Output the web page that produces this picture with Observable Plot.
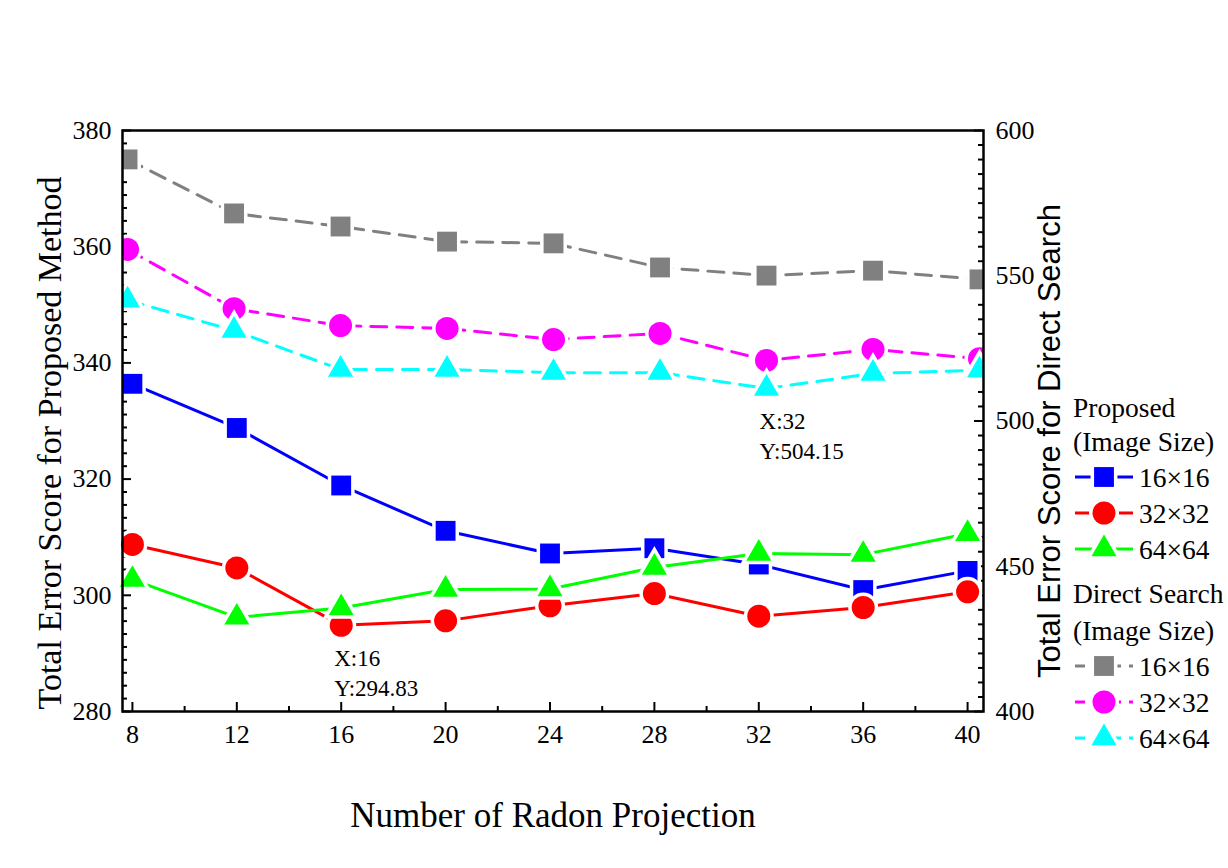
<!DOCTYPE html>
<html><head><meta charset="utf-8">
<script src="https://cdn.jsdelivr.net/npm/d3@7"></script>
<script src="https://cdn.jsdelivr.net/npm/@observablehq/plot@0.6"></script>
<style>
html,body{margin:0;padding:0;background:#fff;overflow:hidden;}
#wrap{position:relative;width:1228px;height:868px;overflow:hidden;}
#legend{position:absolute;left:0;top:0;pointer-events:none;}
</style></head>
<body><div id="wrap"></div>
<script>
// ---------- data ----------
const projections = [8, 12, 16, 20, 24, 28, 32, 36, 40];
const sizeLabels = ["16×16", "32×32", "64×64"];
// Proposed method (left axis)
const proposed16 = [336.4, 328.8, 318.9, 311.1, 307.2, 308.1, 305.3, 300.9, 304.2];
const proposed32 = [308.75, 304.7, 294.83, 295.6, 298.2, 300.3, 296.4, 297.9, 300.6];
const proposed64 = [302.7, 296.2, 297.8, 301.0, 301.1, 304.8, 307.2, 307.0, 310.6];
// Direct search (right axis, second layer)
const direct16 = [583.0, 564.4, 559.9, 554.7, 554.1, 545.8, 543.0, 544.7, 541.7];
const direct32 = [552.0, 531.6, 525.8, 524.8, 521.0, 523.1, 513.8, 517.6, 514.4];
const direct64 = [534.5, 524.1, 510.7, 510.7, 509.6, 509.6, 504.15, 509.3, 510.4];
// axis ticks
const xTicks = [8, 12, 16, 20, 24, 28, 32, 36, 40];
const leftTicks = [280, 300, 320, 340, 360, 380];
const rightTicks = [400, 450, 500, 550, 600];
// annotations
const notes = [
  {layer: "proposed", x: 16, y: 294.83, text: "X:16\nY:294.83"},
  {layer: "direct", x: 32, y: 504.15, text: "X:32\nY:504.15"}
];

// ---------- layout / scales ----------
const W = 1228, H = 868;
const mL = 122, mR = 245, mT = 130, mB = 157;
const plotW = W - mL - mR, plotH = H - mT - mB;
const xDomain = [7.62, 40.61];           // layer 1 x range
const xDomainDirect = [7.81, 40.15];     // layer 2 (direct search) x range
const leftDomain = [280, 380], rightDomain = [400, 600];
const rightDomainDirect = [392.95, 592.95]; // layer 2 y range
const lin = (v, a, b) => b[0] + (v - a[0]) / (a[1] - a[0]) * (b[1] - b[0]);
const toPrimaryX = v => lin(v, xDomainDirect, xDomain);
const toLeftY = v => lin(v, rightDomain, leftDomain);
const toLeftYDirect = v => lin(v, rightDomainDirect, leftDomain);
const toRightY = v => lin(v, leftDomain, rightDomain);

const proposedSeries = [proposed16, proposed32, proposed64];
const directSeries = [direct16, direct32, direct64];
const propStyle = [
  {color: "#0000FF", symbol: "square", r: 11.2},
  {color: "#FF0000", symbol: "circle", r: 11.5},
  {color: "#00FF00", symbol: "triangle", r: 9.3}
];
const dirStyle = [
  {color: "#808080", symbol: "square", r: 11.2},
  {color: "#FF00FF", symbol: "circle", r: 11.5},
  {color: "#00FFFF", symbol: "triangle", r: 9.3}
];

const propRows = proposedSeries.map(vals => projections.map((p, j) => ({x: p, y: vals[j]})));
const dirRows = directSeries.map(vals => projections.map((p, j) => ({x: toPrimaryX(p), y: toLeftYDirect(vals[j])})));

const marks = [];
// inward tick marks
const xMinor = d3.range(10, 40, 4);
const leftMinor = d3.range(0, 45).map(i => 280 + i * 20 / 9).filter(v => v < 380 - 1e-6 && !leftTicks.some(t => Math.abs(t - v) < 1e-6));
const rightMinor = d3.range(405, 600, 5).filter(v => v % 50 !== 0).map(toLeftY);
const tk = {strokeWidth: 2, stroke: "black"};
marks.push(Plot.tickX(xTicks, {x: d => d, insetTop: plotH - 9, ...tk}));
marks.push(Plot.tickX(xMinor, {x: d => d, insetTop: plotH - 5, ...tk}));
marks.push(Plot.tickY(leftTicks, {y: d => d, insetRight: plotW - 9, ...tk}));
marks.push(Plot.tickY(leftMinor, {y: d => d, insetRight: plotW - 5, ...tk}));
marks.push(Plot.tickY(rightTicks.map(toLeftY), {y: d => d, insetLeft: plotW - 9, ...tk}));
marks.push(Plot.tickY(rightMinor, {y: d => d, insetLeft: plotW - 5, ...tk}));

// proposed layer
propRows.forEach((rows, i) => {
  marks.push(Plot.line(rows, {x: "x", y: "y", stroke: propStyle[i].color, strokeWidth: 3}));
});
propRows.forEach((rows, i) => {
  const s = propStyle[i];
  marks.push(Plot.dot(rows, {x: "x", y: "y", symbol: s.symbol, r: s.r, fill: s.color, stroke: "white", strokeWidth: 7, paintOrder: "stroke"}));
});
// direct search layer
dirRows.forEach((rows, i) => {
  marks.push(Plot.line(rows, {x: "x", y: "y", stroke: dirStyle[i].color, strokeWidth: 3, strokeDasharray: "16,10", clip: true}));
});
dirRows.forEach((rows, i) => {
  const s = dirStyle[i];
  marks.push(Plot.dot(rows, {x: "x", y: "y", symbol: s.symbol, r: s.r, fill: s.color, stroke: "white", strokeWidth: 7, paintOrder: "stroke", clip: true}));
});

// annotations
marks.push(Plot.text(notes, {
  x: d => d.layer === "direct" ? toPrimaryX(d.x) : d.x,
  y: d => d.layer === "direct" ? toLeftYDirect(d.y) : d.y,
  text: "text", textAnchor: "start", lineAnchor: "top", dx: -7, dy: 20,
  fontSize: 23, lineHeight: 1.28, fill: "black", fontFamily: "Liberation Serif"
}));

// frame
marks.push(Plot.frame({stroke: "black", strokeWidth: 2.5}));

// tick labels
const tl = {tickSize: 0, fontSize: 26, label: null, fontFamily: "Liberation Serif"};
marks.push(Plot.axisX(xTicks, {...tl, tickPadding: 13}));
marks.push(Plot.axisY(leftTicks, {...tl, anchor: "left", tickPadding: 11}));
marks.push(Plot.axisY(rightTicks.map(toLeftY), {...tl, anchor: "right", tickPadding: 12, tickFormat: d => String(Math.round(toRightY(d)))}));

// axis titles
marks.push(Plot.text(["Total Error Score for Proposed Method"], {frameAnchor: "left", text: d => d, rotate: -90, dx: -72, dy: 22, fontSize: 34, fontFamily: "Liberation Serif", textAnchor: "middle", lineAnchor: "middle"}));
marks.push(Plot.text(["Total Error Score for Direct Search"], {frameAnchor: "right", text: d => d, rotate: -90, dx: 67, dy: 20, fontSize: 31, fontFamily: "Liberation Sans", textAnchor: "middle", lineAnchor: "middle"}));
marks.push(Plot.text(["Number of Radon Projection"], {frameAnchor: "bottom", text: d => d, dy: 104, fontSize: 35, fontFamily: "Liberation Serif", textAnchor: "middle", lineAnchor: "middle"}));

const chart = Plot.plot({
  width: W, height: H,
  marginLeft: mL, marginRight: mR, marginTop: mT, marginBottom: mB,
  x: {domain: xDomain},
  y: {domain: leftDomain},
  style: {fontFamily: "Liberation Serif", fontSize: "26px", background: "white", color: "black"},
  marks
});
document.getElementById("wrap").appendChild(chart);

// ---------- legend ----------
const svg = d3.select("#wrap").append("svg").attr("id", "legend").attr("width", W).attr("height", H);
const lx = 1073, sampleW = 58, tx = 1139, legendFont = 27.5;
const groups = [
  {title: ["Proposed", "(Image Size)"], styles: propStyle, dash: null, y0: 407, gap: 34, rows: 477},
  {title: ["Direct Search", "(Image Size)"], styles: dirStyle, dash: "10,8", y0: 593, gap: 37, rows: 666}
];
groups.forEach(g => {
  g.title.forEach((t, k) => {
    svg.append("text").attr("x", lx).attr("y", g.y0 + k * g.gap).attr("dy", "0.35em")
      .attr("font-family", "Liberation Serif").attr("font-size", legendFont).text(t);
  });
  g.styles.forEach((s, k) => {
    const y = g.rows + k * 36;
    svg.append("line").attr("x1", lx + 2).attr("x2", lx + 2 + sampleW).attr("y1", y).attr("y2", y)
      .attr("stroke", s.color).attr("stroke-width", 3).attr("stroke-dasharray", g.dash);
    const sym = s.symbol === "square" ? d3.symbolSquare : s.symbol === "circle" ? d3.symbolCircle : d3.symbolTriangle;
    svg.append("path").attr("d", d3.symbol(sym, Math.PI * s.r * s.r)())
      .attr("transform", `translate(${lx + 2 + sampleW / 2},${y})`)
      .attr("fill", s.color).attr("stroke", "white").attr("stroke-width", 7).attr("paint-order", "stroke");
    svg.append("text").attr("x", tx).attr("y", y).attr("dy", "0.35em")
      .attr("font-family", "Liberation Serif").attr("font-size", legendFont).text(sizeLabels[k]);
  });
});
</script>
</body></html>
